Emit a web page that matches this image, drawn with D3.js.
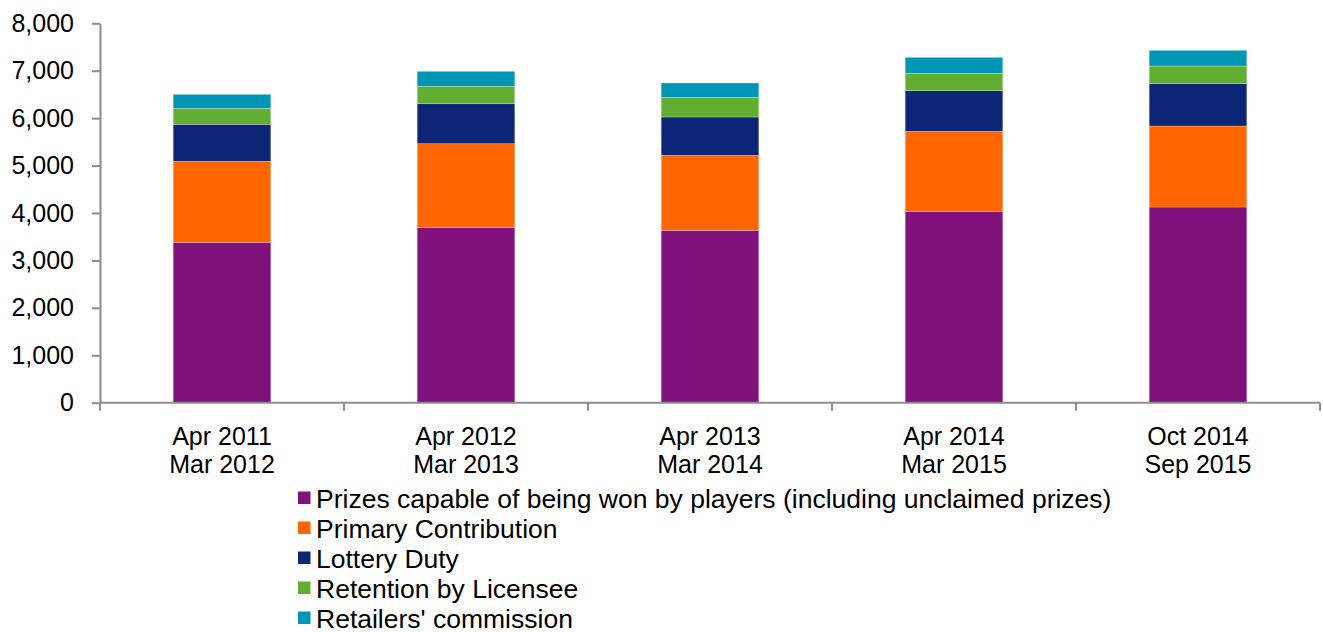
<!DOCTYPE html>
<html>
<head>
<meta charset="utf-8">
<script src="https://cdn.jsdelivr.net/npm/d3@7"></script>
<style>
  body { margin: 0; background: #fff; }
  text { font-family: "Liberation Sans", Arial, sans-serif; fill: #000; }
</style>
</head>
<body>
<div id="chart"></div>
<script>
(function(){
  var periods = [['Apr 2011', 'Mar 2012'], ['Apr 2012', 'Mar 2013'], ['Apr 2013', 'Mar 2014'],
                 ['Apr 2014', 'Mar 2015'], ['Oct 2014', 'Sep 2015']]
  var seriesNames = ['Prizes capable of being won by players (including unclaimed prizes)',
                     'Primary Contribution', 'Lottery Duty', 'Retention by Licensee', "Retailers' commission"]
  var prizes    = [3382, 3690, 3635, 4035, 4126]
  var primary   = [1708, 1771, 1581, 1687, 1708]
  var duty      = [780, 843, 808, 856, 892]
  var retention = [337, 367, 415, 367, 373]
  var retailers = [295, 316, 302, 337, 331]
  var yTicks = [0, 1000, 2000, 3000, 4000, 5000, 6000, 7000, 8000]
  var colors = ['#80117d', '#ff6600', '#0c2577', '#62ae33', '#0296b6']

  var width = 1323, height = 632
  var left = 100, right = 1320, top = 23.3, bottom = 402.7

  var rows = periods.map(function(p, i){
    return { key: i, prizes: prizes[i], primary: primary[i], duty: duty[i],
             retention: retention[i], retailers: retailers[i] }
  })
  var keys = ['prizes', 'primary', 'duty', 'retention', 'retailers']
  var stacked = d3.stack().keys(keys)(rows)

  var svg = d3.select('#chart').append('svg')
    .attr('width', width).attr('height', height)

  var x = d3.scaleBand().domain(d3.range(periods.length)).range([left, right])
    .paddingInner(0.6).paddingOuter(0.3)
  var y = d3.scaleLinear().domain([0, 8000]).range([bottom, top])

  svg.append('g').selectAll('g')
    .data(stacked)
    .enter().append('g')
    .attr('fill', function(d, i){ return colors[i] })
    .selectAll('rect')
    .data(function(d){ return d })
    .enter().append('rect')
    .attr('x', function(d){ return x(d.data.key) })
    .attr('width', x.bandwidth())
    .attr('y', function(d){ return y(d[1]) })
    .attr('height', function(d){ return y(d[0]) - y(d[1]) })
    .attr('stroke', 'rgba(255,255,255,0.4)')
    .attr('stroke-width', 0.6)

  // y axis
  var yAxis = svg.append('g')
    .attr('transform', 'translate(' + left + ',0)')
    .call(d3.axisLeft(y).tickValues(yTicks).tickFormat(d3.format(',')).tickSize(8).tickSizeOuter(0).tickPadding(18))
  yAxis.selectAll('text').style('font-size', '25px')
  yAxis.select('.domain').attr('stroke', '#8c8c8c').attr('stroke-width', 2)
  yAxis.selectAll('.tick line').attr('stroke', '#8c8c8c').attr('stroke-width', 2)
  yAxis.selectAll('.tick text').attr('fill', '#000')

  // x axis, ticks sit on the category boundaries
  var xAxis = svg.append('g').attr('transform', 'translate(0,' + bottom + ')')
  xAxis.append('line').attr('x1', left).attr('x2', right)
    .attr('stroke', '#8c8c8c').attr('stroke-width', 2)
  xAxis.selectAll('.tk')
    .data(d3.range(periods.length + 1))
    .enter().append('line')
    .attr('x1', function(i){ return left + i * x.step() })
    .attr('x2', function(i){ return left + i * x.step() })
    .attr('y1', 0).attr('y2', 8)
    .attr('stroke', '#8c8c8c').attr('stroke-width', 2)
  var lbl = xAxis.selectAll('.lbl')
    .data(periods)
    .enter().append('text')
    .attr('text-anchor', 'middle')
    .style('font-size', '25px')
  lbl.append('tspan').attr('x', function(d, i){ return x(i) + x.bandwidth() / 2 })
    .attr('y', 42).text(function(d){ return d[0] })
  lbl.append('tspan').attr('x', function(d, i){ return x(i) + x.bandwidth() / 2 })
    .attr('y', 70.5).text(function(d){ return d[1] })

  // legend
  var legend = svg.append('g').selectAll('g')
    .data(seriesNames)
    .enter().append('g')
    .attr('transform', function(d, i){ return 'translate(298,' + (507.5 + i * 30) + ')' })
  legend.append('rect')
    .attr('x', 0).attr('y', -16).attr('width', 12.5).attr('height', 12.5)
    .attr('fill', function(d, i){ return colors[i] })
  legend.append('text')
    .attr('x', 18).attr('y', 0)
    .style('font-size', '26.5px')
    .text(function(d){ return d })
})()
</script>
</body>
</html>
